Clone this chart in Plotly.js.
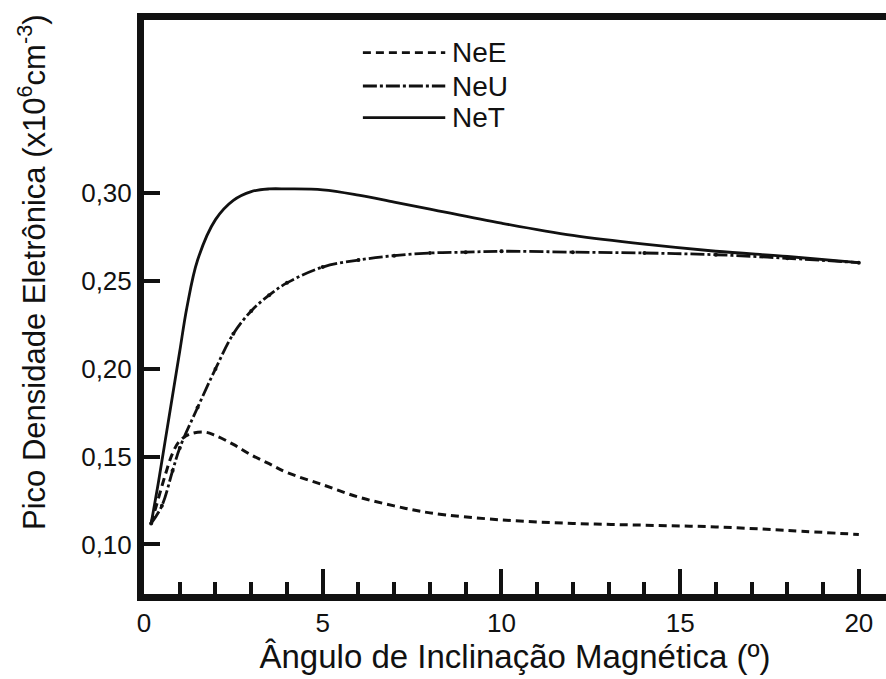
<!DOCTYPE html>
<html>
<head>
<meta charset="utf-8">
<script src="https://cdn.plot.ly/plotly-3.0.1.min.js"></script>
<style>html,body{margin:0;padding:0;background:#fff;overflow:hidden;}#chart{width:886px;height:679px;}</style>
</head>
<body>
<div id="chart"></div>
<script>
// Data
const seriesNames = ["NeE", "NeU", "NeT"];

const xNeE = [0.2, 0.4, 0.6, 0.8, 1.0, 1.3, 1.7, 2.0, 2.5, 3.0, 3.5, 4.0, 5, 6, 7, 8, 10, 12, 14, 16, 18, 20];
const yNeE = [0.112, 0.126, 0.140, 0.152, 0.159, 0.163, 0.164, 0.162, 0.157, 0.151, 0.146, 0.141, 0.134, 0.127, 0.122, 0.118, 0.114, 0.112, 0.111, 0.110, 0.108, 0.1057];

const xNeU = [0.2, 0.5, 0.8, 1.0, 1.5, 2.0, 2.5, 3.0, 3.5, 4.0, 5, 6, 7, 8, 9, 10, 12, 14, 16, 18, 20];
const yNeU = [0.112, 0.122, 0.142, 0.155, 0.178, 0.200, 0.220, 0.233, 0.242, 0.249, 0.258, 0.262, 0.2645, 0.266, 0.2665, 0.267, 0.2665, 0.266, 0.265, 0.263, 0.2605];

const xNeT = [0.2, 0.4, 0.6, 0.8, 1.0, 1.2, 1.5, 2.0, 2.5, 3.0, 3.5, 4.0, 5, 6, 7, 8, 10, 12, 14, 16, 18, 20];
const yNeT = [0.112, 0.135, 0.160, 0.185, 0.210, 0.235, 0.262, 0.285, 0.296, 0.301, 0.3025, 0.3025, 0.302, 0.299, 0.295, 0.291, 0.283, 0.276, 0.271, 0.267, 0.264, 0.2605];

const yTickVals = [0.10, 0.15, 0.20, 0.25, 0.30];
const yTickText = ["0,10", "0,15", "0,20", "0,25", "0,30"];
const xTickVals = [0, 5, 10, 15, 20];
const xTickText = ["0", "5", "10", "15", "20"];

const FONT = "Liberation Sans, Arial, sans-serif";
const INK = "#111";

const traces = [
  {x: xNeE, y: yNeE, name: seriesNames[0], mode: "lines", line: {color: INK, width: 3, dash: "8px,5px", shape: "spline"}, showlegend: false},
  {x: xNeU, y: yNeU, name: seriesNames[1], mode: "lines+markers", line: {color: INK, width: 2.8, dash: "14px,3px,3px,3px", shape: "spline"}, marker: {color: INK, size: 4}, showlegend: false},
  {x: xNeT, y: yNeT, name: seriesNames[2], mode: "lines", line: {color: INK, width: 2.8, shape: "spline"}, showlegend: false}
];

// custom legend (long line samples as in the reference)
const legY = [0.943, 0.885, 0.830];
const legDash = ["8px,5px", "14px,3px,3px,3px", "solid"];
const shapes = [];
const annotations = [];
for (let i = 0; i < 3; i++) {
  shapes.push({type: "line", xref: "paper", yref: "paper", x0: 0.295, x1: 0.406, y0: legY[i], y1: legY[i], line: {color: INK, width: 2.8, dash: legDash[i]}});
  annotations.push({xref: "paper", yref: "paper", x: 0.413, y: legY[i], xanchor: "left", yanchor: "middle", text: seriesNames[i], showarrow: false, font: {family: FONT, size: 28, color: INK}});
}
annotations.push({xref: "paper", yref: "paper", x: 0, y: 0.561, xshift: -112, xanchor: "center", yanchor: "middle", textangle: -90, showarrow: false,
  text: "Pico Densidade Eletrônica (x10<sup>6</sup>cm<sup>-3</sup>)", font: {family: FONT, size: 31, color: INK}});

const layout = {
  width: 886, height: 679,
  margin: {l: 144, r: 0, t: 20, b: 84.5, pad: 0},
  paper_bgcolor: "#fff", plot_bgcolor: "#fff",
  font: {family: FONT, color: INK, size: 25},
  xaxis: {
    range: [0, 20.76], showgrid: false, zeroline: false,
    showline: true, linecolor: INK, linewidth: 7, mirror: true,
    ticks: "inside", ticklen: 25, tickwidth: 4, tickcolor: INK,
    tickvals: xTickVals, ticktext: xTickText,
    tickfont: {family: FONT, size: 26, color: INK},
    minor: {dtick: 1, tick0: 0, ticks: "inside", ticklen: 12, tickwidth: 4, tickcolor: INK, showgrid: false},
    title: {text: "Ângulo de Inclinação Magnética (º)", font: {family: FONT, size: 33, color: INK}, standoff: 0}
  },
  yaxis: {
    range: [0.0718, 0.3987], showgrid: false, zeroline: false,
    showline: true, linecolor: INK, linewidth: 7, mirror: false,
    ticks: "inside", ticklen: 16, tickwidth: 4, tickcolor: INK,
    tickvals: yTickVals, ticktext: yTickText,
    tickfont: {family: FONT, size: 26, color: INK}
  },
  shapes: shapes,
  annotations: annotations
};

Plotly.newPlot("chart", traces, layout, {staticPlot: true, displayModeBar: false});
</script>
</body>
</html>
